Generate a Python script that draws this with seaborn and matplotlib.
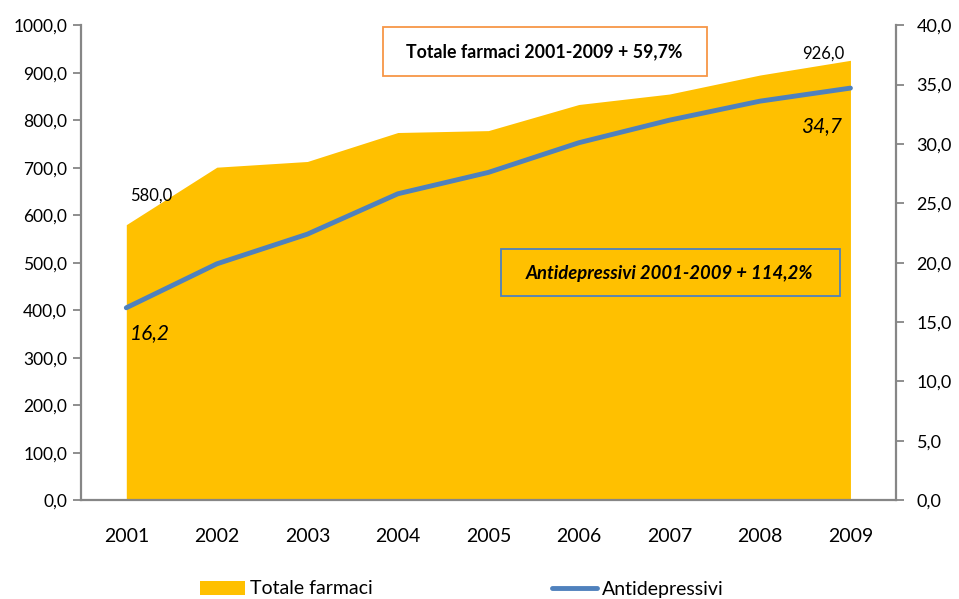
import numpy as np
import pandas as pd
import matplotlib
matplotlib.use("Agg")
import matplotlib.pyplot as plt
from matplotlib.ticker import FuncFormatter, FixedLocator
from matplotlib.patches import Patch, Rectangle
from matplotlib.lines import Line2D
import seaborn as sns

# data
years = ["2001", "2002", "2003", "2004", "2005", "2006", "2007", "2008", "2009"]
totale_farmaci = [580.0, 701.0, 713.0, 774.0, 778.0, 833.0, 855.0, 895.0, 926.0]
antidepressivi = [16.2, 19.9, 22.4, 25.8, 27.6, 30.1, 32.0, 33.6, 34.7]

YELLOW = "#FFC000"
BLUE = "#4F81BD"
ORANGE = "#F79646"
GRAY = "#868686"

sns.set_theme(style="white")
plt.rcParams["font.family"] = ["Lato", "DejaVu Sans"]
plt.rcParams.update({"text.color": "black", "xtick.labelcolor": "black", "ytick.labelcolor": "black"})

df = pd.DataFrame({"anno": np.arange(len(years)), "totale": totale_farmaci, "antidep": antidepressivi})


def it_num(v):
    # decimal comma, as in the original
    return f"{v:.1f}".replace(".", ",")


fig = plt.figure(figsize=(9.59, 5.99), dpi=100)
ax = fig.add_axes([0.0845, 0.165, 0.8495, 0.793])
ax2 = ax.twinx()

# area (left axis)
ax.fill_between(df["anno"], 0, df["totale"], color=YELLOW, linewidth=0)
# line (right axis)
sns.lineplot(data=df, x="anno", y="antidep", ax=ax2, color=BLUE, linewidth=3.5,
             solid_capstyle="round", legend=False)

ax.set_xlim(-0.5, len(years) - 0.5)
ax.set_ylim(0, 1000)
ax2.set_ylim(0, 40)
ax.set_yticks(np.arange(0, 1001, 100))
ax2.set_yticks(np.arange(0, 41, 5))

fmt = FuncFormatter(lambda v, p: it_num(v))
ax.yaxis.set_major_formatter(fmt)
ax2.yaxis.set_major_formatter(fmt)

# category labels centred, tick marks on boundaries
ax.set_xticks(np.arange(len(years)))
ax.set_xticklabels(years, fontsize=14)
ax.xaxis.set_minor_locator(FixedLocator(np.arange(-0.5, len(years), 1.0)))
ax.tick_params(axis="x", which="major", length=0, pad=20, labelcolor="black")
ax.tick_params(axis="x", which="minor", length=6, width=1.3, color=GRAY, direction="out")
ax.tick_params(axis="y", length=6, width=1.3, color=GRAY, direction="out", labelsize=12.5, pad=4,
               labelcolor="black")
ax2.tick_params(axis="y", length=6, width=1.3, color=GRAY, direction="out", labelsize=13, pad=9,
                labelcolor="black")
ax.set_xlabel("")
ax.set_ylabel("")
ax2.set_xlabel("")
ax2.set_ylabel("")

for a in (ax, ax2):
    a.spines["top"].set_visible(False)
    for s in ("left", "right", "bottom"):
        a.spines[s].set_color(GRAY)
        a.spines[s].set_linewidth(1.6)
    a.grid(False)
ax.spines["right"].set_visible(False)
ax2.spines["left"].set_visible(False)
ax2.spines["bottom"].set_visible(False)

# data labels
ax.annotate(it_num(totale_farmaci[0]), xy=(0, totale_farmaci[0]), xytext=(4, 29),
            textcoords="offset pixels", ha="left", va="center", fontsize=12)
ax.annotate(it_num(totale_farmaci[-1]), xy=(len(years) - 1, totale_farmaci[-1]), xytext=(-6, 7),
            textcoords="offset pixels", ha="right", va="center", fontsize=12)
ax2.annotate(it_num(antidepressivi[0]), xy=(0, antidepressivi[0]), xytext=(4, -25),
             textcoords="offset pixels", ha="left", va="center", fontsize=15, style="italic")
ax2.annotate(it_num(antidepressivi[-1]), xy=(len(years) - 1, antidepressivi[-1]), xytext=(-8, -38),
             textcoords="offset pixels", ha="right", va="center", fontsize=15, style="italic")

# annotation boxes
fig.patches.append(Rectangle((0.3994, 0.8731), 0.3378, 0.0818, transform=fig.transFigure,
                             facecolor="white", edgecolor=ORANGE, linewidth=1.3, zorder=5))
fig.text(0.5678, 0.9132, "Totale farmaci 2001-2009 + 59,7%", ha="center", va="center",
         fontsize=12.8, fontweight="bold", zorder=6)
fig.patches.append(Rectangle((0.5224, 0.5058), 0.3535, 0.0785, transform=fig.transFigure,
                             facecolor="none", edgecolor=BLUE, linewidth=1.3, zorder=5))
fig.text(0.6986, 0.5442, "Antidepressivi 2001-2009 + 114,2%", ha="center", va="center",
         fontsize=13.3, fontweight="bold", style="italic", zorder=6)

# legend at the bottom, one entry each
leg_kw = dict(frameon=False, fontsize=14, handlelength=2.3, handleheight=0.7,
              handletextpad=0.25, borderpad=0, borderaxespad=0, loc="center left",
              labelcolor="black")
fig.legend(handles=[Patch(facecolor=YELLOW, edgecolor="none", label="Totale farmaci")],
           bbox_to_anchor=(200 / 959, 1 - 589 / 599), **leg_kw)
fig.legend(handles=[Line2D([0], [0], color=BLUE, linewidth=3.5, solid_capstyle="round",
                           label="Antidepressivi")],
           bbox_to_anchor=(552 / 959, 1 - 589 / 599), **leg_kw)

fig.savefig("out.png", dpi=100)
